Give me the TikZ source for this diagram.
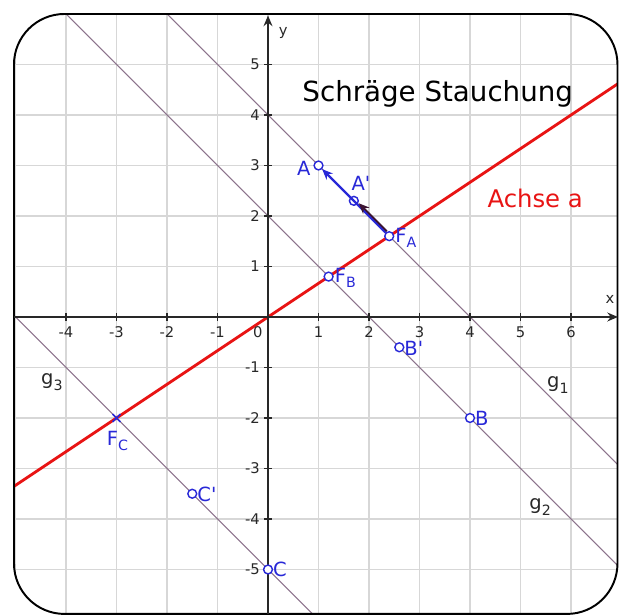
\documentclass[tikz,border=0pt]{standalone}
\usepackage{fontspec}
\setmainfont{DejaVu Sans}
\newfontfamily\plainfont{DejaVu Sans}
\usetikzlibrary{arrows.meta}
\definecolor{gline}{RGB}{140,115,140}
\definecolor{ptblue}{RGB}{40,40,215}
\definecolor{axred}{RGB}{232,20,20}
\definecolor{gridc}{RGB}{215,215,215}
\definecolor{darkarr}{RGB}{60,20,50}
\definecolor{axc}{RGB}{40,40,40}
\newcommand\lowsub[1]{\raisebox{-0.5ex}{\fontsize{8}{8}\selectfont #1}}
\begin{document}
\begin{tikzpicture}[
  pt/.style={circle,draw=ptblue,fill=white,inner sep=0pt,minimum size=5pt,line width=0.8pt},
  lab/.style={text=ptblue,font=\plainfont\fontsize{11}{11}\selectfont,inner sep=1pt},
  glab/.style={text=axc,font=\fontsize{11}{11}\selectfont,inner sep=1pt},
  ticklab/.style={text=axc,font=\fontsize{8.3}{8.3}\selectfont,inner sep=1pt},
  gl/.style={draw=gline,line width=0.6pt},
  axis/.style={draw=axc,line width=0.9pt},
]
\useasboundingbox (-5.307,-5.901) rectangle (6.970,6.277);
\begin{scope}
\clip[rounded corners=1cm] (-5.03,-5.88) rectangle (6.92,6.0);
\draw[gridc,line width=0.6pt] (-6,-6) grid (7,7);
\draw[gl] (-2.5,6.5) -- (7.5,-3.5);
\draw[gl] (-4.5,6.5) -- (7.5,-5.5);
\draw[gl] (-5.5,0.5) -- (1.5,-6.5);
\draw[axred,line width=1.6pt] (-5.5,-11/3) -- (7.5,5);
\end{scope}
\draw[line width=1.1pt,rounded corners=1cm] (-5.03,-5.88) rectangle (6.92,6.0);
% axes
\coordinate (xs) at (-5.03,0);
\coordinate (xe) at (6.93,0);
\coordinate (ys) at (0,-5.88);
\coordinate (ye) at (0,5.97);
\draw[axis,-{Stealth[length=6pt,width=5pt]}] (xs) -- (xe);
\draw[axis,-{Stealth[length=6pt,width=5pt]}] (ys) -- (ye);
\foreach \x in {-4,-3,-2,-1,1,2,3,4,5,6}{
  \draw[axis,line width=0.7pt] (\x,-0.07) -- (\x,0.07);
  \node[ticklab] (tx\x) at (\x,-0.3) {\x};
}
\node[ticklab] (tx0) at (-0.2,-0.3) {0};
\foreach \y in {-5,-4,-3,-2,-1,1,2,3,4,5}{
  \draw[axis,line width=0.7pt] (-0.07,\y) -- (0.07,\y);
  \node[ticklab,anchor=east] (ty\y) at (-0.12,\y) {\y};
}
\node[ticklab] (xl) at (6.77,0.34) {x};
\node[ticklab] (yl) at (0.3,5.62) {y};
% points
\node[pt] (A) at (1,3) {};
\node[pt] (A') at (1.7,2.3) {};
\node[pt] (FA) at (2.4,1.6) {};
\node[pt] (FB) at (1.2,0.8) {};
\node[pt] (B) at (4,-2) {};
\node[pt] (B') at (2.6,-0.6) {};
\node[pt] (C) at (0,-5) {};
\node[pt] (C') at (-1.5,-3.5) {};
\node[inner sep=0pt,minimum size=4pt] (FC) at (-3,-2) {};
\draw[ptblue,line width=0.9pt] (FC.south west) -- (FC.north east) (FC.north west) -- (FC.south east);
% arrows
\draw[ptblue,line width=1.3pt,-{Stealth[length=6pt,width=5pt]}] (FA) -- (A);
\draw[darkarr,line width=1pt,-{Stealth[length=6pt,width=5pt]},transform canvas={shift={(0.7pt,0.7pt)}}] (FA) -- (A');
% labels
\node[lab] (lA) at (0.71,2.95) {A};
\node[lab] (lA') at (1.84,2.65) {A'};
\node[lab,anchor=west] (lFA) at (2.48,1.57) {F\lowsub{A}};
\node[lab,anchor=west] (lFB) at (1.28,0.77) {F\lowsub{B}};
\node[lab,anchor=west] (lB') at (2.66,-0.62) {B'};
\node[lab,anchor=west] (lB) at (4.06,-2.0) {B};
\node[lab] (lFC) at (-2.98,-2.45) {F\lowsub{C}};
\node[lab,anchor=west] (lC') at (-1.44,-3.52) {C'};
\node[lab,anchor=west] (lC) at (0.06,-5.0) {C};
\node[glab] (g1) at (5.74,-1.35) {g\lowsub{1}};
\node[glab] (g2) at (5.39,-3.76) {g\lowsub{2}};
\node[glab] (g3) at (-4.28,-1.29) {g\lowsub{3}};
\node[font=\fontsize{15.6}{16}\selectfont,text=black] (title) at (3.36,4.42) {Schräge Stauchung};
\node[font=\fontsize{13.7}{14}\selectfont,text=axred] (achse) at (5.29,2.34) {Achse a};
\end{tikzpicture}
\end{document}
